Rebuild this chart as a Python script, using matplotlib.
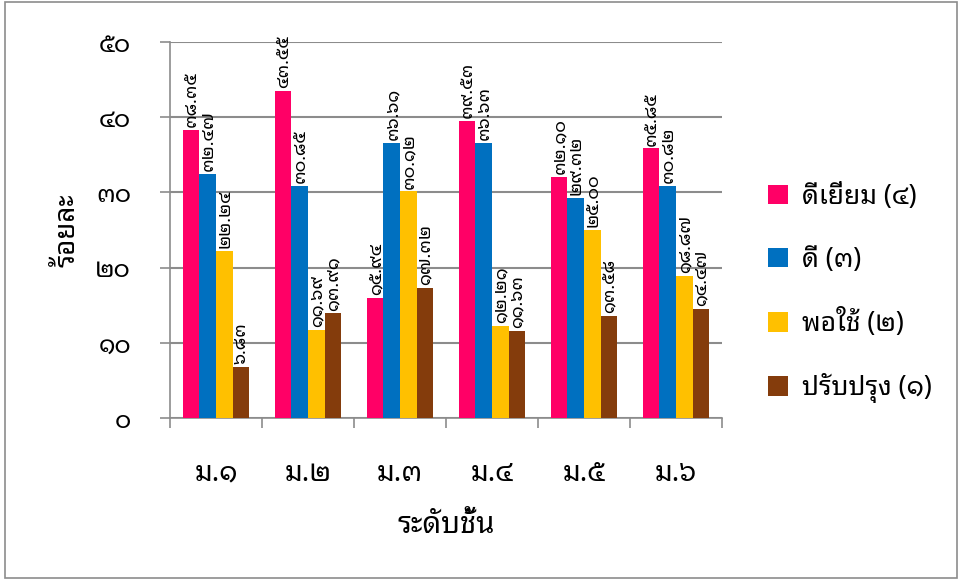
import matplotlib
matplotlib.use("Agg")
import matplotlib.pyplot as plt
from matplotlib import font_manager as fm
from matplotlib.patches import Rectangle, Patch
import numpy as np

# ---------------- data ----------------
categories = ["ม.๑", "ม.๒", "ม.๓", "ม.๔", "ม.๕", "ม.๖"]
series_names = ["ดีเยี่ยม (๔)", "ดี (๓)", "พอใช้ (๒)", "ปรับปรุง (๑)"]
excellent = [38.35, 43.55, 15.94, 39.53, 32.10, 35.85]
good = [32.47, 30.85, 36.61, 36.63, 29.32, 30.82]
fair = [22.24, 11.69, 30.12, 12.21, 25.00, 18.87]
improve = [6.83, 13.91, 17.32, 11.63, 13.58, 14.47]
y_ticks = [0, 10, 20, 30, 40, 50]
x_title = "ระดับชั้น"
y_title = "ร้อยละ"

colors = ["#FF0066", "#0070C0", "#FFC000", "#843C0C"]

# ---------------- font with Thai glyphs ----------------
def thai_fonts():
    try:
        from fontTools.ttLib import TTFont
    except Exception:
        return {}
    found = {}
    for f in fm.fontManager.ttflist:
        try:
            kw = {}
            if f.fname.lower().endswith((".ttc", ".otc")):
                kw["fontNumber"] = 0
            tt = TTFont(f.fname, lazy=True, **kw)
            cmap = tt.getBestCmap()
            if cmap and 0x0E14 in cmap and 0x0E51 in cmap and 0x0E35 in cmap:
                found.setdefault(f.name, []).append((f.weight, f.style))
        except Exception:
            pass
    return found

found = thai_fonts()
prefs = ["Tahoma", "Leelawadee UI", "Leelawadee", "Noto Sans Thai Looped", "Noto Looped Thai",
         "Noto Looped Thai UI", "Garuda", "Loma", "Waree", "Umpush", "Kinnari", "Norasi",
         "Laksaman", "Noto Sans Thai", "Noto Sans Thai UI", "Sarabun", "DejaVu Sans",
         "FreeSans", "Noto Sans", "Noto Serif Thai"]
thai = None
for p in prefs:
    if p in found:
        thai = p
        break
if thai is None and found:
    thai = sorted(found)[0]
fam = [thai, "DejaVu Sans"] if thai else ["DejaVu Sans"]
plt.rcParams["font.family"] = fam

thai_digits = str.maketrans("0123456789", "๐๑๒๓๔๕๖๗๘๙")
def th(s):
    return str(s).translate(thai_digits)

# ---------------- figure ----------------
W, H = 961, 579
fig = plt.figure(figsize=(W / 100, H / 100), dpi=100)
fig.patches.append(Rectangle((5 / W, 1 / H), (957 - 5) / W, (577 - 1) / H,
                             transform=fig.transFigure, fill=False,
                             edgecolor="#8C8C8C", linewidth=1.2))

ax = fig.add_axes([170 / W, (H - 418) / H, (722 - 170) / W, (418 - 42) / H])

series = [excellent, good, fair, improve]
x = np.arange(len(categories))
bw = 0.18
offsets = [-1.5, -0.5, 0.5, 1.5]
for vals, c, off, name in zip(series, colors, offsets, series_names):
    ax.bar(x + off * bw, vals, width=bw, color=c, label=name, zorder=3)
    for xi, v in zip(x + off * bw, vals):
        ax.annotate(th(f"{v:.2f}"), (xi, v), xytext=(0, 2), textcoords="offset points",
                    rotation=90, ha="center", va="bottom", fontsize=13,
                    color="#000000", zorder=4, annotation_clip=False)

ax.set_xlim(-0.5, len(categories) - 0.5)
ax.set_ylim(0, 50)
ax.set_yticks(y_ticks)
ax.set_yticklabels([th(t) for t in y_ticks], fontsize=18)
ax.yaxis.grid(True, color="#8C8C8C", linewidth=1.5, zorder=0)
ax.set_axisbelow(True)

ax.set_xticks(x)
ax.set_xticklabels(categories, fontsize=20)
ax.set_xticks(np.arange(-0.5, len(categories)), minor=True)
ax.tick_params(axis="x", which="major", length=0, pad=30)
ax.tick_params(axis="x", which="minor", length=7, color="#8C8C8C", width=1.2)
ax.tick_params(axis="y", length=7, color="#8C8C8C", width=1.2, pad=21)

for s in ["top", "right"]:
    ax.spines[s].set_visible(False)
for s in ["left", "bottom"]:
    ax.spines[s].set_color("#8C8C8C")
    ax.spines[s].set_linewidth(1.2)

ax.set_xlabel(x_title, fontsize=21, fontweight="bold", labelpad=17)
ax.set_ylabel(y_title, fontsize=20, fontweight="bold")
ax.yaxis.set_label_coords(-0.16, 0.5)

handles = [Patch(facecolor=c, edgecolor="none") for c in colors]
fig.legend(handles, series_names, loc="center left", bbox_to_anchor=(744 / W, (H - 293) / H),
           frameon=False, fontsize=19, handlelength=0.75, handleheight=0.75,
           labelspacing=1.33, handletextpad=0.55)

fig.savefig("out.png", dpi=100)
